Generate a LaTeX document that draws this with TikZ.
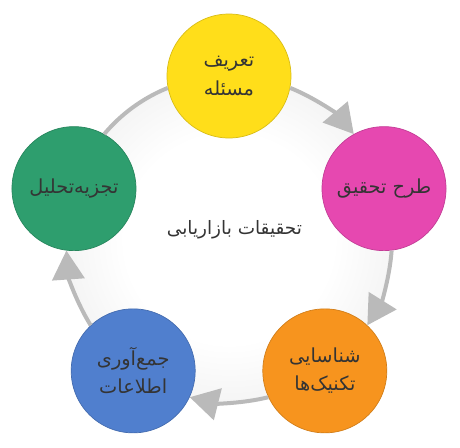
\documentclass[tikz,border=0pt]{standalone}
\usepackage{fontspec}
\newfontfamily\farsi[Script=Arabic]{DejaVu Sans}
\TeXXeTstate=1
\usetikzlibrary{arrows.meta}
\definecolor{ringgray}{RGB}{186,186,186}
\definecolor{labelgray}{RGB}{52,52,52}
\definecolor{problemyellow}{RGB}{255,222,26}
\definecolor{designpink}{RGB}{230,72,176}
\definecolor{techorange}{RGB}{247,148,30}
\definecolor{collectblue}{RGB}{80,127,206}
\definecolor{analysisgreen}{RGB}{46,158,110}
\pgfdeclareradialshading{ringglow}{\pgfpoint{0bp}{0bp}}{color(0bp)=(white); color(16bp)=(white); color(50bp)=(black!15)}

\begin{document}
\begin{tikzpicture}[
    stage/.style={circle, minimum size=2.48cm, inner sep=0pt, align=center, text=labelgray, font=\farsi\fontsize{11}{16}\selectfont},
    loopline/.style={draw=ringgray, line width=0.08cm, bend left=14, looseness=0.86},
    looparrow/.style={loopline, -{Triangle[width=0.64cm,length=0.58cm]}}
]
    \useasboundingbox (-4.58,-4.16) rectangle (4.62,4.78);
    \shade[shading=ringglow] (0,0) circle (3.26cm);

    \node (title) at (0.11,0.18) [text=labelgray, font=\farsi\fontsize{10.5}{12}\selectfont] {\beginR تحقیقات بازاریابی\endR};

    \node (problem) [stage, fill=problemyellow, draw=problemyellow!85!black] at (90:3.26) {\beginR تعریف\endR\\\beginR مسئله\endR};
    \node (design) [stage, fill=designpink, draw=designpink!85!black] at (18:3.26) {\beginR طرح تحقیق\endR};
    \node (techniques) [stage, fill=techorange, draw=techorange!85!black] at (-54:3.26) {\beginR شناسایی\endR\\\beginR تکنیک^^^^200cها\endR};
    \node (collection) [stage, fill=collectblue, draw=collectblue!85!black] at (-126:3.26) {\beginR جمع^^^^200cآوری\endR\\\beginR اطلاعات\endR};
    \node (analysis) [stage, fill=analysisgreen, draw=analysisgreen!85!black] at (162:3.26) {\beginR تجزیه^^^^200cتحلیل\endR};

    \draw[looparrow] (problem.-11) to (design.119);
    \draw[looparrow] (design.-83) to (techniques.47);
    \draw[looparrow] (techniques.-155) to (collection.-25);
    \draw[looparrow] (collection.133) to (analysis.-97);
    \draw[loopline] (analysis.61) to (problem.191);
\end{tikzpicture}
\end{document}
